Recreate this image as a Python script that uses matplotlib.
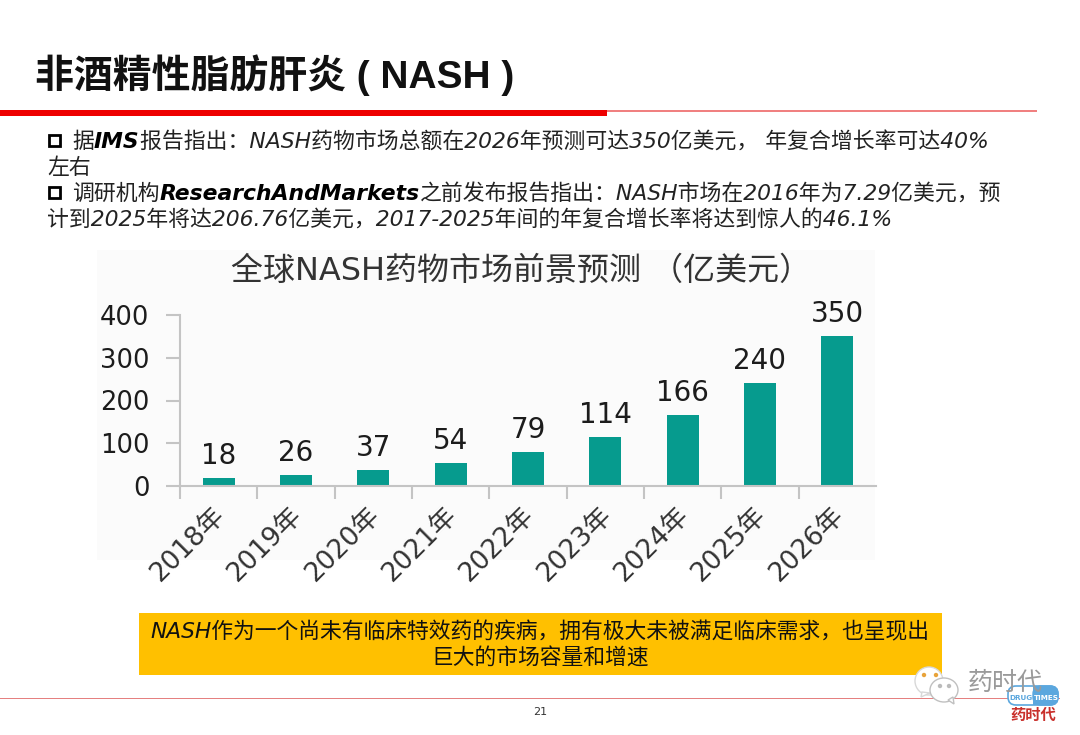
#!/usr/bin/python

import matplotlib
matplotlib.use('Agg')
import matplotlib.pyplot as plt
from matplotlib.patches import Rectangle, Ellipse, FancyBboxPatch, Polygon
from matplotlib.transforms import ScaledTranslation

FONTS = ['DejaVu Sans', 'Noto Sans CJK SC']
plt.rcParams['font.family'] = FONTS

years = ['2018年', '2019年', '2020年', '2021年', '2022年', '2023年', '2024年', '2025年', '2026年']
values = [18, 26, 37, 54, 79, 114, 166, 240, 350]
y_ticks = [0, 100, 200, 300, 400]

title = '非酒精性脂肪肝炎 ( NASH )'
chart_title = '全球NASH药物市场前景预测 （亿美元）'
line1 = [('据', False), ('IMS', True), ('报告指出：NASH药物市场总额在2026年预测可达350亿美元， 年复合增长率可达40%', False)]
line2 = [('左右', False)]
line3 = [('调研机构', False), ('ResearchAndMarkets', True), ('之前发布报告指出：NASH市场在2016年为7.29亿美元，预', False)]
line4 = [('计到2025年将达206.76亿美元，2017-2025年间的年复合增长率将达到惊人的46.1%', False)]
note1 = 'NASH作为一个尚未有临床特效药的疾病，拥有极大未被满足临床需求，也呈现出'
note2 = '巨大的市场容量和增速'

TEAL = '#069B8E'
GREY_AXIS = '#c4c4c4'
DARK = '#1c1c1c'
BLUE = '#5BA7DE'


def draw_runs(fig, page, x, y, runs, size):
    # lay out bold and regular pieces one after the other
    for text, bold in runs:
        t = page.text(x, y, text, fontsize=size, style='italic',
                      fontweight='bold' if bold else 'normal',
                      color='black' if bold else '#222222', va='center', ha='left')
        box = t.get_window_extent(fig.canvas.get_renderer())
        x = x + box.width


def draw_page(fig, page):
    page.set_xlim(0, 1080)
    page.set_ylim(735, 0)
    page.axis('off')

    page.text(35, 75, title, fontsize=28, fontweight='bold', color='#111111',
              va='center', ha='left', family=['Liberation Sans', 'Noto Sans CJK SC'])

    page.add_patch(Rectangle((0, 110), 607, 6, color='#EE0000', lw=0))
    page.add_patch(Rectangle((607, 110), 430, 1.5, color='#F08080', lw=0))

    for y in [141, 193]:
        page.add_patch(Rectangle((49, y - 6), 11, 11, fill=False, ec='black', lw=2))

    draw_runs(fig, page, 72, 142, line1, 15.75)
    draw_runs(fig, page, 47, 168, line2, 15.75)
    draw_runs(fig, page, 72, 194, line3, 15.75)
    draw_runs(fig, page, 47, 220, line4, 15.75)

    page.add_patch(Rectangle((97, 250), 778, 310, color='#fbfbfb', lw=0))

    page.text(521, 271, chart_title, fontsize=23, color='#333333', ha='center', va='center')

    page.add_patch(Rectangle((139, 613), 803, 62, color='#FFC000', lw=0))
    page.text(540, 632, note1, fontsize=15.7, style='italic', color='#111111', ha='center', va='center')
    page.text(540, 658, note2, fontsize=15.7, style='italic', color='#111111', ha='center', va='center')

    page.add_patch(Rectangle((0, 697.5), 1060, 1, color='#E58080', lw=0))
    page.text(540, 712, '21', fontsize=8, color='#333333', ha='center', va='center')

    # wechat mark and logo in the corner
    page.add_patch(Ellipse((929, 681), 28, 28, fc='white', ec='#d8d8d8', lw=1))
    page.add_patch(Polygon([(922, 692), (921, 697), (930, 693)], fc='white', ec='#d8d8d8', lw=1))
    page.add_patch(Ellipse((944, 690), 28, 24, fc='white', ec='#c0c0c0', lw=1))
    page.add_patch(Polygon([(948, 700), (954, 704), (953, 697)], fc='white', ec='#c0c0c0', lw=1))
    page.add_patch(Ellipse((924, 675), 3, 3, color='#E8A33A'))
    page.add_patch(Ellipse((936, 675), 3, 3, color='#E8A33A'))
    page.add_patch(Ellipse((940, 686), 3, 3, color='#bbbbbb'))
    page.add_patch(Ellipse((949, 686), 3, 3, color='#bbbbbb'))
    page.text(1005, 683, '药时代', fontsize=18, color='#9a9a9a', ha='center', va='center')

    page.add_patch(FancyBboxPatch((1008, 686), 50, 19, boxstyle='round,pad=0,rounding_size=8',
                                  fc='white', ec=BLUE, lw=1.2))
    page.add_patch(FancyBboxPatch((1033, 686), 25, 19, boxstyle='round,pad=0,rounding_size=8',
                                  fc=BLUE, ec=BLUE, lw=1))
    page.add_patch(Rectangle((1033, 686), 10, 19, color=BLUE, lw=0))
    page.text(1021, 698, 'DRUG', fontsize=5.2, fontweight='bold', color=BLUE, ha='center', va='center')
    page.text(1046, 698, 'TIMES', fontsize=5.2, fontweight='bold', color='white', ha='center', va='center')
    page.text(1033, 715, '药时代', fontsize=11, fontweight='bold', color='#C9302C', ha='center', va='center',
              family=['Noto Sans CJK SC', 'DejaVu Sans'])


def draw_chart(fig, ax):
    x = list(range(len(years)))
    bars = ax.bar(x, values, width=0.41, color=TEAL)
    ax.bar_label(bars, labels=[str(v) for v in values], padding=6, fontsize=20, color=DARK)

    ax.set_xlim(-0.5, len(years) - 0.5)
    ax.set_ylim(0, 400)
    ax.set_yticks(y_ticks)
    ax.set_yticklabels([str(v) for v in y_ticks], fontsize=18.5, color=DARK)
    ax.set_xticks([i - 0.5 for i in x])
    ax.set_xticklabels([])
    ax.set_xticks(x, minor=True)
    ax.set_xticklabels(years, minor=True, rotation=45, ha='right', rotation_mode='anchor',
                       fontsize=19, color='#333333')
    ax.tick_params(axis='x', which='minor', length=0, pad=12)
    ax.tick_params(axis='x', which='major', length=9, color=GREY_AXIS, width=1.5, direction='out')
    ax.tick_params(axis='y', length=10, color=GREY_AXIS, width=1.5, pad=12)

    # the rotated labels sit a little left of their bars
    offset = ScaledTranslation(-7 / 100, 0, fig.dpi_scale_trans)
    for label in ax.get_xticklabels(minor=True):
        label.set_transform(label.get_transform() + offset)

    for side in ['top', 'right']:
        ax.spines[side].set_visible(False)
    for side in ['left', 'bottom']:
        ax.spines[side].set_color(GREY_AXIS)
        ax.spines[side].set_linewidth(1.5)
    ax.patch.set_alpha(0)


def main():
    fig = plt.figure(figsize=(10.8, 7.35), dpi=100)

    page = fig.add_axes([0, 0, 1, 1])
    draw_page(fig, page)

    ax = fig.add_axes([180 / 1080, 1 - 486 / 735, 696 / 1080, 171 / 735])
    draw_chart(fig, ax)

    fig.savefig('out.png', dpi=100)


if __name__ == "__main__":
    main()
